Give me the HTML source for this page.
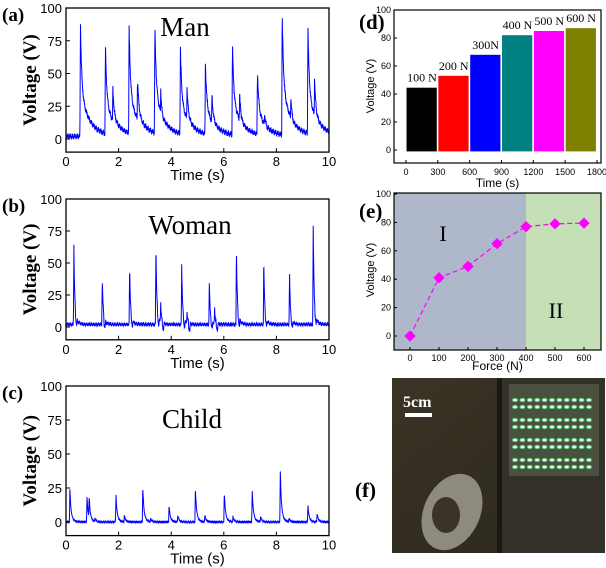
<!DOCTYPE html>
<html><head><meta charset="utf-8"><style>
body{margin:0;background:#fff;width:606px;height:568px;overflow:hidden}
svg{display:block}
.tk{font-family:"Liberation Sans",sans-serif;font-size:13px;fill:#000}
.tks{font-family:"Liberation Sans",sans-serif;font-size:9px;fill:#000}
.yt{font-family:"Liberation Serif",serif;font-weight:bold;font-size:19px}
.pl{font-family:"Liberation Serif",serif;font-weight:bold;font-size:19px}
.nm{font-family:"Liberation Serif",serif;font-size:27px}
</style></head><body>
<svg id="fig" width="606" height="568" viewBox="0 0 606 568"></svg>
<script>
// ---- data ----
const manPeakTimes=[0.55,1.5,1.78,2.4,2.72,3.38,3.6,4.35,4.6,5.3,5.55,6.33,6.6,7.28,7.55,8.22,8.55,9.2,9.45];
const manPeakAmps=[85,68,38,83,45,85,36,68,38,57,32,70,33,50,18,94,30,82,44];
const womanPeakTimes=[0.3,1.38,2.42,3.42,3.6,4.4,4.6,5.45,5.65,6.48,7.52,8.5,9.4];
const womanPeakAmps=[62,37,46,63,17,46,10,31,12,61,51,38,77];
const childPeakTimes=[0.15,0.8,0.88,1.1,1.9,2.22,2.92,3.22,3.92,4.25,4.92,5.28,6.02,6.35,7.08,7.4,8.15,8.48,9.2,9.55];
const childPeakAmps=[24,18,19,3,20,5,26,3,12,5,25,5,22,4,24,4,37,3,12,6];
const timeTicks=[0,2,4,6,8,10];
const voltTicks=[0,25,50,75,100];
const barLabels=["100 N","200 N","300N","400 N","500 N","600 N"];
const barStarts=[0,300,600,900,1200,1500];
const barValues=[44.5,53,68,82,85,87];
const barColors=["#000000","#ff0000","#0000ff","#008080","#ff00ff","#808000"];
const dTimeTicks=[0,300,600,900,1200,1500,1800];
const dVoltTicks=[0,20,40,60,80,100];
const forces=[0,100,200,300,400,500,600];
const forceVolts=[0,41,49,65,77,79,79.5];

const S=document.getElementById('fig');
const NS='http://www.w3.org/2000/svg';
function mk(tag,attrs,parent,txt){const e=document.createElementNS(NS,tag);for(const k in attrs)e.setAttribute(k,attrs[k]);if(txt!==undefined)e.textContent=txt;(parent||S).appendChild(e);return e;}

function trace(times,amps,p){
  const pts=[];
  for(let i=0;i<=1200;i++){
    const t=i/120;
    let m=0,dip=0;
    for(let k=0;k<times.length;k++){
      const d=t-times[k];let c=0;
      if(d>=-0.02&&d<0)c=amps[k]*(1+d/0.02);
      else if(d>=0){c=amps[k]*((1-p.slow)*Math.exp(-d/p.tau)+p.slow*Math.exp(-d/p.tau2));
        if(p.dip&&d>0.06&&d<0.12)dip=p.dip;}
      if(c>m)m=c;
    }
    let v=p.base+m-dip+p.noise*(0.6*Math.sin(i*2.3)+0.4*Math.sin(i*5.7));
    pts.push([t,v]);
  }
  return pts;
}

function panel(o){
  const g=mk('g',{});
  const x=v=>o.x0+(o.x1-o.x0)*v/10;
  const y=v=>o.y0-(o.y0-o.y100)*v/100;
  const ymin=y(-10);
  const pts=trace(o.t,o.a,o.p);
  const line=mk('polyline',{points:pts.map(p=>x(p[0]).toFixed(1)+','+Math.max(y(100),Math.min(ymin,y(p[1]))).toFixed(1)).join(' '),fill:'none',stroke:'#0000ff','stroke-width':1},g);
  
  
  mk('rect',{x:o.x0,y:y(100),width:o.x1-o.x0,height:ymin-y(100),fill:'none',stroke:'#000','stroke-width':1.3,},g);
  timeTicks.forEach(v=>{mk('line',{x1:x(v),x2:x(v),y1:ymin,y2:ymin-4,stroke:'#000'},g);
    const t=mk('text',{x:x(v),y:ymin+14,'text-anchor':'middle',class:'tk'},g,v);
    });
  voltTicks.forEach(v=>{mk('line',{x1:o.x0,x2:o.x0+4,y1:y(v),y2:y(v),stroke:'#000'},g);
    const t=mk('text',{x:o.x0-4,y:y(v)+5,'text-anchor':'end',class:'tk'},g,v);
    });
  mk('text',{x:(o.x0+o.x1)/2,y:ymin+28,'text-anchor':'middle',class:'tk',style:'font-size:15px',},g,'Time (s)');
  mk('text',{transform:`translate(36,${(y(100)+ymin)/2}) rotate(-90)`,'text-anchor':'middle',class:'yt',},g,'Voltage (V)');
  mk('text',{x:2,y:y(100)+13,class:'pl',},g,o.lab);
  mk('text',{x:o.nx,y:y(100)+o.ny,'text-anchor':'middle',class:'nm',},g,o.title);
}
panel({name:'panel-a',x0:66,x1:329,y0:139,y100:8,t:manPeakTimes,a:manPeakAmps,p:{tau:0.05,tau2:0.35,slow:0.4,dip:0,base:2,noise:2.5},lab:'(a)',title:'Man',nx:185,ny:28});
panel({name:'panel-b',x0:66,x1:329,y0:327,y100:199,t:womanPeakTimes,a:womanPeakAmps,p:{tau:0.03,tau2:0.1,slow:0.15,dip:5,base:2,noise:1.8},lab:'(b)',title:'Woman',nx:190,ny:35});
panel({name:'panel-c',x0:66,x1:329,y0:522,y100:386,t:childPeakTimes,a:childPeakAmps,p:{tau:0.04,tau2:0.1,slow:0.2,dip:0,base:0,noise:0.5},lab:'(c)',title:'Child',nx:192,ny:42});

// ---- panel d ----
(function(){
  const g=mk('g',{});
  const X0=394,X1=601,top=10,bot=163;
  const x=v=>406+(597-406)*v/1800;
  const y=v=>150-(150-10)*v/100;
  barValues.forEach((v,i)=>{
    const r=mk('rect',{x:x(barStarts[i]+5),y:y(v),width:x(barStarts[i]+290)-x(barStarts[i]+5),height:y(-1)-y(v),fill:barColors[i]},g);
    
    
    const t=mk('text',{x:x(barStarts[i]+150),y:y(v)-6,'text-anchor':'middle',style:'font-family:"Liberation Serif",serif;font-size:12px'},g,barLabels[i]);
    
  });
  mk('rect',{x:X0,y:top,width:X1-X0,height:bot-top,fill:'none',stroke:'#000','stroke-width':1.2},g);
  dTimeTicks.forEach(v=>{mk('line',{x1:x(v),x2:x(v),y1:bot,y2:bot-3,stroke:'#000'},g);
    const t=mk('text',{x:x(v),y:bot+12,'text-anchor':'middle',class:'tks'},g,v);
    });
  dVoltTicks.forEach(v=>{mk('line',{x1:X0,x2:X0+3,y1:y(v),y2:y(v),stroke:'#000'},g);
    const t=mk('text',{x:X0-3,y:y(v)+3,'text-anchor':'end',class:'tks'},g,v);
    });
  mk('text',{x:(X0+X1)/2,y:bot+24,'text-anchor':'middle',class:'tk',style:'font-size:12px',},g,'Time (s)');
  mk('text',{transform:'translate(374,86) rotate(-90)','text-anchor':'middle',class:'tk',style:'font-size:11px',},g,'Voltage (V)');
  mk('text',{x:359,y:29,class:'pl',style:'font-size:21px',},g,'(d)');
})();

// ---- panel e ----
(function(){
  const g=mk('g',{});
  const X0=394,X1=601,top=193,bot=350;
  const x=v=>410+(584-410)*v/600;
  const y=v=>336-(336-194)*v/100;
  mk('rect',{x:X0,y:top,width:x(400)-X0,height:bot-top,fill:'#aeb8ca',},g);
  mk('rect',{x:x(400),y:top,width:X1-x(400),height:bot-top,fill:'#c5dfb6',},g);
  mk('polyline',{points:forces.map((f,i)=>x(f)+','+y(forceVolts[i])).join(' '),fill:'none',stroke:'#ff00ff','stroke-width':1.2,'stroke-dasharray':'5,3',},g);
  forces.forEach((f,i)=>{const m=mk('rect',{x:x(f)-4,y:y(forceVolts[i])-4,width:8,height:8,fill:'#ff00ff',transform:`rotate(45 ${x(f)} ${y(forceVolts[i])})`},g);
    });
  mk('rect',{x:X0,y:top,width:X1-X0,height:bot-top,fill:'none',stroke:'#000','stroke-width':1.2},g);
  forces.forEach(v=>{mk('line',{x1:x(v),x2:x(v),y1:bot,y2:bot-3,stroke:'#000'},g);
    const t=mk('text',{x:x(v),y:bot+11,'text-anchor':'middle',class:'tks'},g,v);
    });
  dVoltTicks.forEach(v=>{mk('line',{x1:X0,x2:X0+3,y1:y(v),y2:y(v),stroke:'#000'},g);
    const t=mk('text',{x:X0-3,y:y(v)+3,'text-anchor':'end',class:'tks'},g,v);
    });
  mk('text',{x:(X0+X1)/2,y:bot+20,'text-anchor':'middle',class:'tk',style:'font-size:12px',},g,'Force (N)');
  mk('text',{transform:'translate(374,270) rotate(-90)','text-anchor':'middle',class:'tk',style:'font-size:11px',},g,'Voltage (V)');
  mk('text',{x:359,y:218,class:'pl',style:'font-size:21px',},g,'(e)');
  mk('text',{x:443,y:241,'text-anchor':'middle',style:'font-family:"Liberation Serif",serif;font-size:22px',},g,'I');
  mk('text',{x:556,y:318,'text-anchor':'middle',style:'font-family:"Liberation Serif",serif;font-size:22px',},g,'II');
})();

// ---- panel f (photo) ----
(function(){
  const g=mk('g',{});
  mk('text',{x:355,y:497,class:'pl',style:'font-size:21px',},g,'(f)');
  const d=mk('defs',{},g);
  const lg=mk('linearGradient',{id:'bg',x1:0,y1:0,x2:1,y2:1},d);
  mk('stop',{offset:0,'stop-color':'#3b3426'},lg);mk('stop',{offset:1,'stop-color':'#2b271d'},lg);
  mk('rect',{x:392,y:378,width:213,height:175,fill:'url(#bg)',},g);
  mk('rect',{x:500,y:378,width:105,height:175,fill:'#34302a'},g);
  mk('rect',{x:497,y:378,width:5,height:175,fill:'#1a1814'},g);
  mk('rect',{x:509,y:384,width:90,height:92,fill:'#4a5040',},g);
  for(let r=0;r<8;r++){for(let c=0;c<11;c++){
    mk('ellipse',{cx:515+c*7.4,cy:400+r*10+(r%2?-3:0),rx:2.4,ry:1.6,fill:'#f0fff0',stroke:'#5fd07a','stroke-width':1.1},g);}}
  mk('ellipse',{cx:452,cy:512,rx:28,ry:40,fill:'#8e8a80',transform:'rotate(25 452 512)',},g);
  mk('ellipse',{cx:446,cy:515,rx:14,ry:18,fill:'#3a332a'},g);
  mk('text',{x:403,y:407,style:'font-family:"Liberation Serif",serif;font-weight:bold;font-size:16px;fill:#fff',},g,'5cm');
  mk('rect',{x:405,y:413,width:27,height:4,fill:'#fff',},g);
})();
</script>
</body></html>
